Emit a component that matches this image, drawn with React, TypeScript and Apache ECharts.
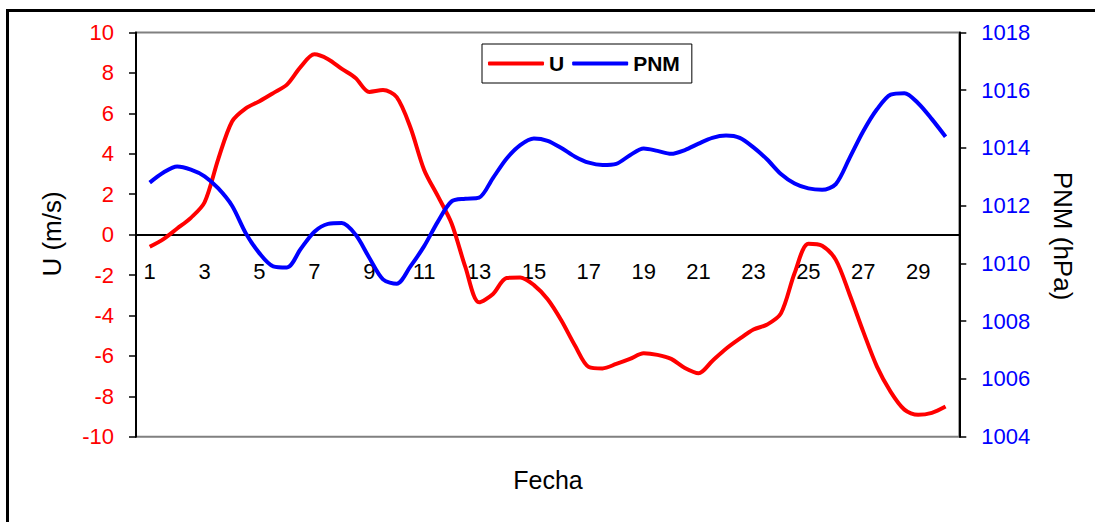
import React, { useEffect, useRef } from "react";
import * as echarts from "echarts";

const FONT = "'Liberation Sans', Arial, sans-serif";

const dayLabels = [
  "1", "2", "3", "4", "5", "6", "7", "8", "9", "10",
  "11", "12", "13", "14", "15", "16", "17", "18", "19", "20",
  "21", "22", "23", "24", "25", "26", "27", "28", "29", "30",
];

const sampleDays = [
  1, 1.5, 2, 2.5, 3, 3.5, 4, 4.5, 5, 5.5, 6, 6.5, 7, 7.5, 8, 8.5, 9, 9.5, 10, 10.5,
  11, 11.5, 12, 12.5, 13, 13.5, 14, 14.5, 15, 15.5, 16, 16.5, 17, 17.5, 18, 18.5, 19, 19.5, 20, 20.5,
  21, 21.5, 22, 22.5, 23, 23.5, 24, 24.5, 25, 25.5, 26, 26.5, 27, 27.5, 28, 28.5, 29, 29.5, 30,
];

const uValues = [
  -0.6, -0.22, 0.3, 0.83, 1.6, 3.75, 5.6, 6.25, 6.6, 7.0, 7.42, 8.3, 8.92, 8.68, 8.2, 7.75, 7.06, 7.15, 6.8, 5.3,
  3.2, 1.9, 0.55, -1.6, -3.35, -2.95, -2.15, -2.12, -2.5, -3.2, -4.25, -5.5, -6.55, -6.62, -6.4, -6.15, -5.87, -5.95, -6.15, -6.6,
  -6.86, -6.25, -5.65, -5.15, -4.7, -4.45, -3.9, -1.9, -0.45, -0.55, -1.25, -2.95, -4.8, -6.53, -7.78, -8.66, -8.92, -8.82, -8.51,
];

const pnmValues = [
  1012.8, 1013.15, 1013.36, 1013.25, 1013.02, 1012.6, 1012.0, 1011.05, 1010.35, 1009.9, 1009.86, 1010.5, 1011.1, 1011.37, 1011.4, 1011.0, 1010.2, 1009.45, 1009.3, 1009.9,
  1010.6, 1011.45, 1012.15, 1012.24, 1012.28, 1012.95, 1013.63, 1014.1, 1014.33, 1014.25, 1014.0, 1013.7, 1013.49, 1013.41, 1013.45, 1013.75, 1013.98, 1013.9, 1013.8, 1013.93,
  1014.15, 1014.35, 1014.43, 1014.35, 1014.02, 1013.6, 1013.1, 1012.77, 1012.6, 1012.55, 1012.75, 1013.65, 1014.58, 1015.34, 1015.85, 1015.9, 1015.55, 1015.0, 1014.39,
];

const seriesNames = ["U", "PNM"];

export default function App() {
  const ref = useRef<HTMLDivElement>(null);

  useEffect(() => {
    if (!ref.current) return;
    const chart = echarts.init(ref.current, null, { renderer: "svg" });
    const option = {
      animation: false,
      grid: {
        left: 136,
        top: 32.5,
        right: 135.7,
        bottom: 85.3,
        show: true,
        borderColor: "#808080",
        borderWidth: 2,
        backgroundColor: "transparent",
      },
      legend: {
        data: seriesNames,
        left: 482,
        top: 44,
        orient: "horizontal",
        padding: [9, 12, 9, 6],
        itemGap: 8,
        itemWidth: 56,
        itemHeight: 4,
        icon: "roundRect",
        borderColor: "#000",
        borderWidth: 1,
        textStyle: { fontSize: 21, fontWeight: "bold", color: "#000", fontFamily: FONT },
      },
      xAxis: [
        {
          type: "category",
          data: dayLabels,
          boundaryGap: true,
          position: "bottom",
          offset: -202.1,
          axisLine: { onZero: false, lineStyle: { color: "#000", width: 2 } },
          axisTick: { interval: 0, length: 6, lineStyle: { color: "#000", width: 1.5 } },
          axisLabel: { interval: 1, color: "#000", fontSize: 22, fontFamily: FONT, margin: 26 },
          splitLine: { show: false },
        },
        { type: "value", min: 0.5, max: 30.5, show: false, position: "top" },
      ],
      yAxis: [
        {
          type: "value",
          min: -10,
          max: 10,
          interval: 2,
          position: "left",
          axisLine: { show: true, lineStyle: { color: "#000", width: 2 } },
          axisTick: { show: true, length: 7, lineStyle: { color: "#000", width: 1.5 } },
          axisLabel: { color: "#FF0000", fontSize: 22, fontFamily: FONT, margin: 22 },
          splitLine: { show: false },
        },
        {
          type: "value",
          min: 1004,
          max: 1018,
          interval: 2,
          position: "right",
          axisLine: { show: true, lineStyle: { color: "#000", width: 2 } },
          axisTick: { show: true, length: 7, lineStyle: { color: "#000", width: 1.5 } },
          axisLabel: {
            color: "#0000FF",
            fontSize: 22,
            fontFamily: FONT,
            margin: 22,
            formatter: (v: number) => String(v),
          },
          splitLine: { show: false },
        },
      ],
      series: [
        {
          name: seriesNames[0],
          type: "line",
          xAxisIndex: 1,
          yAxisIndex: 0,
          data: sampleDays.map((d, i) => [d, uValues[i]]),
          showSymbol: false,
          smooth: 0.3,
          lineStyle: { color: "#FF0000", width: 4 },
          itemStyle: { color: "#FF0000" },
        },
        {
          name: seriesNames[1],
          type: "line",
          xAxisIndex: 1,
          yAxisIndex: 1,
          data: sampleDays.map((d, i) => [d, pnmValues[i]]),
          showSymbol: false,
          smooth: 0.3,
          lineStyle: { color: "#0000FF", width: 4 },
          itemStyle: { color: "#0000FF" },
        },
      ],
      graphic: [
        {
          type: "rect",
          shape: { x: 7.5, y: 10.5, width: 1200, height: 600 },
          style: { fill: "none", stroke: "#000", lineWidth: 3 },
          silent: true,
        },
        {
          type: "text",
          x: 52,
          y: 234,
          rotation: Math.PI / 2,
          style: {
            text: "U (m/s)",
            fontSize: 26,
            fontFamily: FONT,
            fill: "#000",
            textAlign: "center",
            textVerticalAlign: "middle",
          },
        },
        {
          type: "text",
          x: 1063,
          y: 236,
          rotation: -Math.PI / 2,
          style: {
            text: "PNM (hPa)",
            fontSize: 26,
            fontFamily: FONT,
            fill: "#000",
            textAlign: "center",
            textVerticalAlign: "middle",
          },
        },
        {
          type: "text",
          x: 548,
          y: 480,
          style: {
            text: "Fecha",
            fontSize: 25,
            fontFamily: FONT,
            fill: "#000",
            textAlign: "center",
            textVerticalAlign: "middle",
          },
        },
      ],
    };
    chart.setOption(option);
    return () => chart.dispose();
  }, []);

  return (
    <div
      ref={ref}
      style={{ position: "absolute", left: 0, top: 0, width: 1095, height: 522, background: "#fff" }}
    />
  );
}
